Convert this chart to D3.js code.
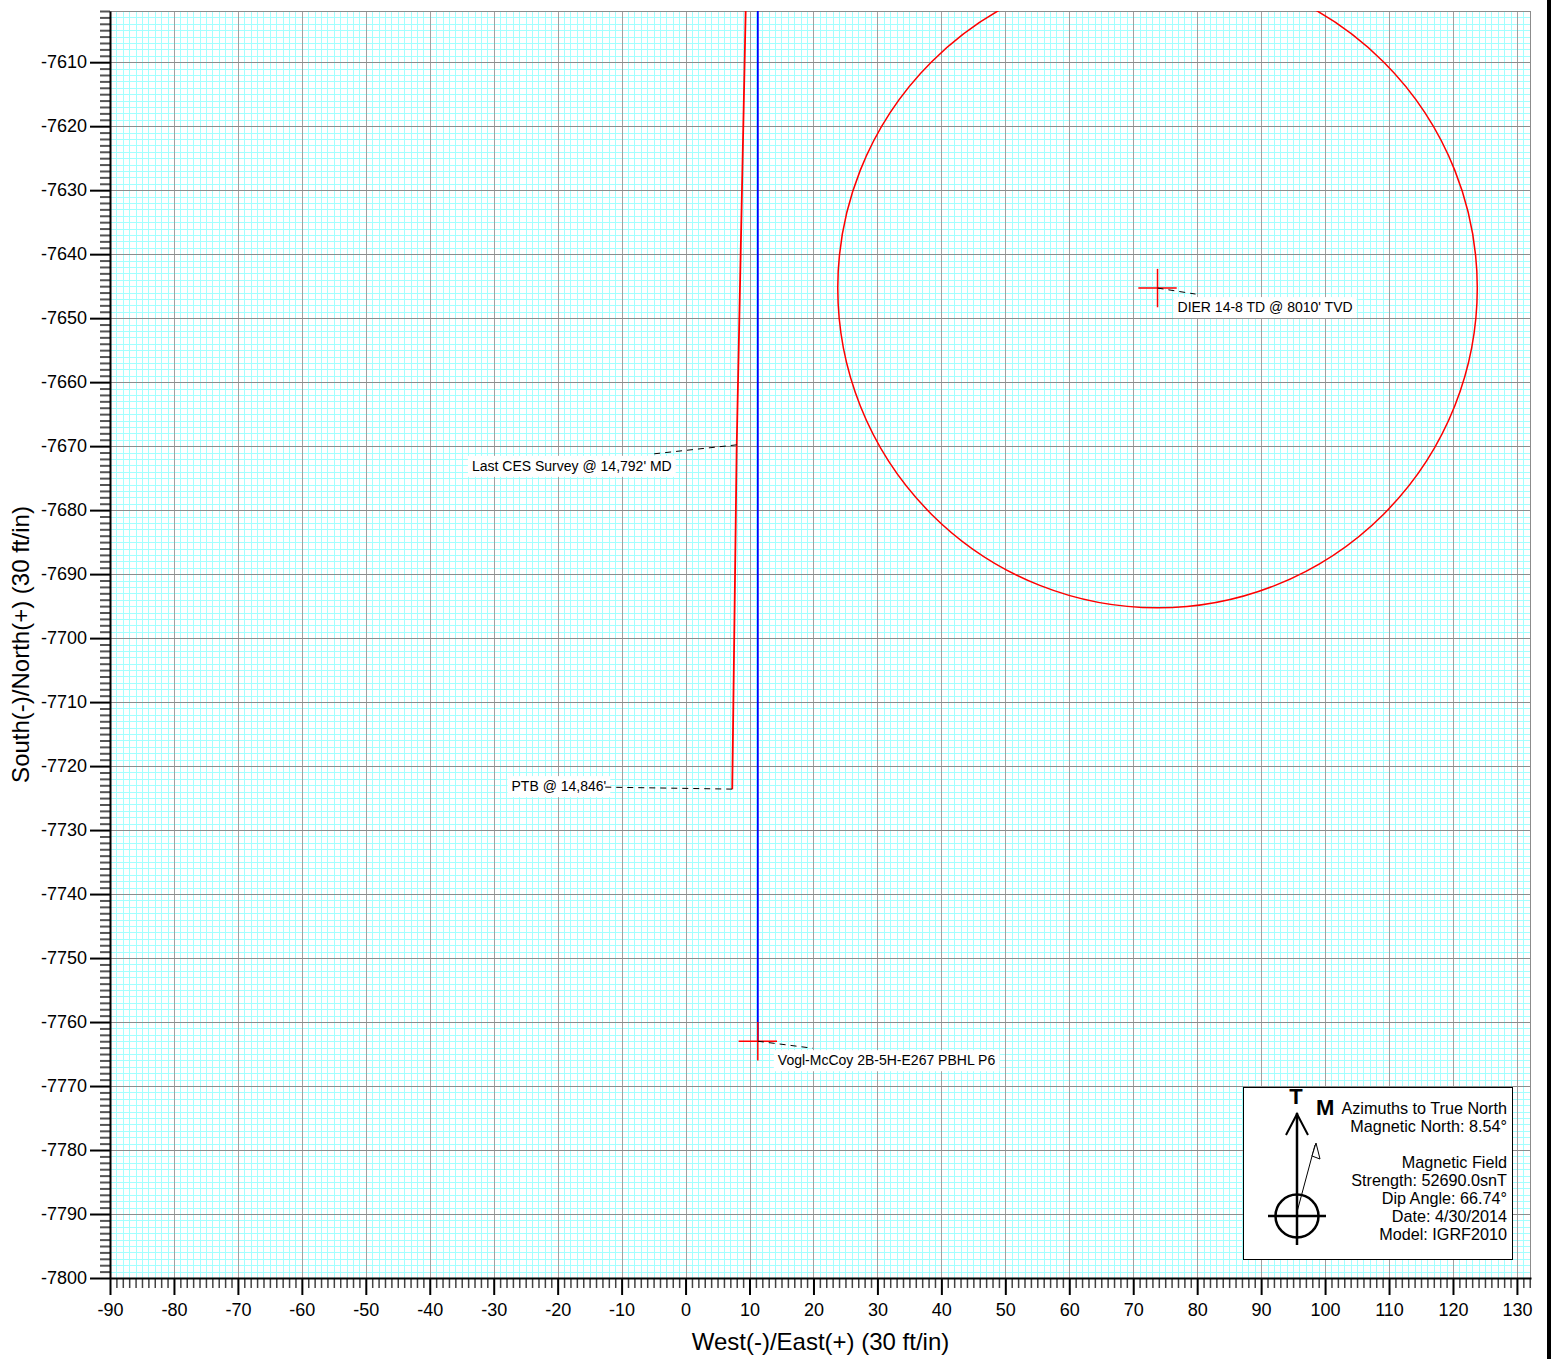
<!DOCTYPE html>
<html>
<head>
<meta charset="utf-8">
<script src="https://cdn.jsdelivr.net/npm/d3@7"></script>
<style>
  body { margin: 0; background: #fff; }
  svg { display: block; font-family: "Liberation Sans", Arial, sans-serif; }
</style>
</head>
<body>
<svg id="plan" width="1551" height="1359"></svg>
<script>
'use strict'

// view window, ft
const eastRange = [-90, 132.2]
const northRange = [-7800, -7602]
const eastTicks = d3.range(-90, 131, 10)
const northTicks = d3.range(-7800, -7609, 10)

// actual well path (red) and plan line (blue)
const wellEast = [9.4, 8.0, 7.3]
const wellNorth = [-7602, -7669.8, -7723.6]
const planEast = [11.3, 11.3]
const planNorth = [-7602, -7763]

// targets
const targetNames = ["Vogl-McCoy 2B-5H-E267 PBHL P6", "DIER 14-8 TD @ 8010' TVD"]
const targetEast = [11.3, 73.8]
const targetNorth = [-7763, -7645.3]
const hardlineRadius = [0, 50]

// survey notes
const noteNames = ["Last CES Survey @ 14,792' MD", "PTB @ 14,846'"]
const noteEast = [8.0, 7.3]
const noteNorth = [-7669.8, -7723.6]

const legendLines = ["Azimuths to True North", "Magnetic North: 8.54°", "",
  "Magnetic Field", "Strength: 52690.0snT", "Dip Angle: 66.74°",
  "Date: 4/30/2014", "Model: IGRF2010"]

const svg = d3.select('#plan')
const pLeft = 110, pRight = 1531, pTop = 11, pBottom = 1278

let x = d3.scaleLinear().domain(eastRange).range([pLeft, pRight])
let y = d3.scaleLinear().domain(northRange).range([pBottom, pTop])

// grid
const grid = svg.append('g').attr('shape-rendering', 'crispEdges')
const minorE = d3.range(-90, 133, 1)
const minorN = d3.range(-7800, -7601, 1)
grid.selectAll('.mx').data(minorE).join('line')
  .attr('x1', d => Math.round(x(d)) + 0.5).attr('x2', d => Math.round(x(d)) + 0.5)
  .attr('y1', pTop).attr('y2', pBottom)
  .style('stroke', '#a3ffff').style('stroke-width', 1)
grid.selectAll('.my').data(minorN).join('line')
  .attr('y1', d => Math.round(y(d)) + 0.5).attr('y2', d => Math.round(y(d)) + 0.5)
  .attr('x1', pLeft).attr('x2', pRight)
  .style('stroke', '#a3ffff').style('stroke-width', 1)
grid.selectAll('.gx').data(eastTicks).join('line')
  .attr('x1', d => Math.round(x(d)) + 0.5).attr('x2', d => Math.round(x(d)) + 0.5)
  .attr('y1', pTop).attr('y2', pBottom)
  .style('stroke', '#a0a0a0')
grid.selectAll('.gy').data(northTicks).join('line')
  .attr('y1', d => Math.round(y(d)) + 0.5).attr('y2', d => Math.round(y(d)) + 0.5)
  .attr('x1', pLeft).attr('x2', pRight)
  .style('stroke', '#8c8c8c')
grid.append('rect')
  .attr('x', pLeft + 0.5).attr('y', pTop + 0.5)
  .attr('width', pRight - pLeft - 1).attr('height', pBottom - pTop)
  .style('fill', 'none').style('stroke', '#8c8c8c')

// right frame bar
svg.append('rect').attr('x', 1547).attr('y', 0).attr('width', 4).attr('height', 1359).style('fill', '#000')

// axes
const plain = d => String(d)
let axisXMinor = d3.axisBottom(x).tickValues(minorE.filter(d => d % 10 !== 0)).tickSize(10).tickSizeOuter(0).tickFormat('')
let axisYMinor = d3.axisLeft(y).tickValues(minorN.filter(d => d % 10 !== 0)).tickSize(10).tickSizeOuter(0).tickFormat('')
let axisX = d3.axisBottom(x).tickValues(eastTicks).tickSize(17).tickSizeOuter(0).tickPadding(8).tickFormat(plain)
let axisY = d3.axisLeft(y).tickValues(northTicks).tickSize(20).tickSizeOuter(0).tickPadding(3).tickFormat(plain)

const gxm = svg.append('g').attr('transform', `translate(0, ${pBottom})`).call(axisXMinor)
const gym = svg.append('g').attr('transform', `translate(${pLeft}, 0)`).call(axisYMinor)
gxm.selectAll('.tick line').style('stroke', '#444').style('stroke-width', 1.5)
gym.selectAll('.tick line').style('stroke', '#555').style('stroke-width', 2)
gxm.select('.domain').remove()
gym.select('.domain').remove()

const gx = svg.append('g').attr('transform', `translate(0, ${pBottom})`).call(axisX)
const gy = svg.append('g').attr('transform', `translate(${pLeft}, 0)`).call(axisY)
for (const g of [gx, gy]) {
  g.select('.domain').style('stroke', '#000').style('stroke-width', 2)
  g.selectAll('.tick line').style('stroke', '#000').style('stroke-width', 2)
  g.selectAll('.tick text').style('font-size', '18px').style('fill', '#000')
    .style('font-family', '"Liberation Sans", Arial, sans-serif')
}

// axis titles
svg.append('text').attr('x', (pLeft + pRight) / 2).attr('y', 1350)
  .attr('text-anchor', 'middle').style('font-size', '24px')
  .text('West(-)/East(+) (30 ft/in)')
svg.append('text').attr('transform', `translate(29, ${(pTop + pBottom) / 2}) rotate(-90)`)
  .attr('text-anchor', 'middle').style('font-size', '24px')
  .text('South(-)/North(+) (30 ft/in)')

// data layer
const plot = svg.append('g')
svg.append('clipPath').attr('id', 'clip').append('rect')
  .attr('x', pLeft).attr('y', pTop).attr('width', pRight - pLeft).attr('height', pBottom - pTop)
plot.attr('clip-path', 'url(#clip)')

let line = d3.line().x(d => x(d[0])).y(d => y(d[1]))

// hardline circle
targetEast.forEach((e, i) => {
  if (hardlineRadius[i] > 0) {
    plot.append('circle')
      .attr('cx', x(e)).attr('cy', y(targetNorth[i]))
      .attr('r', x(hardlineRadius[i]) - x(0))
      .style('fill', 'none').style('stroke', '#ff0000').style('stroke-width', 1.5)
  }
})

plot.append('path').datum(planEast.map((e, i) => [e, planNorth[i]]))
  .attr('d', line).style('fill', 'none').style('stroke', '#0000ff').style('stroke-width', 1.8)
plot.append('path').datum(wellEast.map((e, i) => [e, wellNorth[i]]))
  .attr('d', line).style('fill', 'none').style('stroke', '#ff0000').style('stroke-width', 1.8)

// target crosses
const arm = 3
targetEast.forEach((e, i) => {
  const n = targetNorth[i]
  plot.append('path').datum([[e - arm, n], [e + arm, n]]).attr('d', line)
    .style('stroke', '#ff0000').style('stroke-width', 1.5)
  plot.append('path').datum([[e, n - arm], [e, n + arm]]).attr('d', line)
    .style('stroke', '#ff0000').style('stroke-width', 1.5)
})

// label with white box and dashed leader
function label(e, n, txt, lead, tpos, anchor) {
  const ax = x(e), ay = y(n)
  const g = svg.append('g')
  const box = g.append('rect').style('fill', '#fff')
  const t = g.append('text')
    .attr('x', ax + tpos[0]).attr('y', ay + tpos[1] + 5)
    .attr('text-anchor', anchor)
    .style('font-size', '14px').style('white-space', 'pre')
    .text(txt)
  const bb = t.node().getBBox()
  box.attr('x', bb.x - 4).attr('y', ay + tpos[1] - 10)
    .attr('width', bb.width + 8).attr('height', 21)
  g.append('line')
    .attr('x1', ax).attr('y1', ay).attr('x2', ax + lead[0]).attr('y2', ay + lead[1])
    .style('stroke', '#000').style('stroke-width', 1).style('stroke-dasharray', '6,5')
}

label(targetEast[0], targetNorth[0], targetNames[0], [55, 7], [20, 19], 'start')
label(targetEast[1], targetNorth[1], targetNames[1], [38, 6], [20, 19], 'start')
label(noteEast[0], noteNorth[0], noteNames[0], [-83, 9], [-65, 21], 'end')
label(noteEast[1], noteNorth[1], noteNames[1], [-128, -2], [-126, -3], 'end')

// legend / north arrow
const lg = svg.append('g').attr('transform', 'translate(1243, 1087)')
lg.append('rect').attr('x', 0.5).attr('y', 0.5).attr('width', 269).attr('height', 172)
  .style('fill', '#fff').style('stroke', '#000').style('stroke-width', 1)
lg.selectAll('.lt').data(legendLines).join('text')
  .attr('x', 264).attr('y', (d, i) => 27 + i * 18)
  .attr('text-anchor', 'end').style('font-size', '16.2px')
  .text(d => d)
lg.append('text').attr('x', 53).attr('y', 17).attr('text-anchor', 'middle')
  .style('font-size', '22px').style('font-weight', 'bold').text('T')
lg.append('text').attr('x', 73).attr('y', 28)
  .style('font-size', '22px').style('font-weight', 'bold').text('M')
lg.append('line').attr('x1', 54).attr('y1', 26).attr('x2', 54).attr('y2', 158)
  .style('stroke', '#000').style('stroke-width', 2.5)
lg.append('path').attr('d', 'M43,48 L54,27 L65,48')
  .style('fill', 'none').style('stroke', '#000').style('stroke-width', 2)
lg.append('circle').attr('cx', 54).attr('cy', 129).attr('r', 21.5)
  .style('fill', 'none').style('stroke', '#000').style('stroke-width', 2.5)
lg.append('line').attr('x1', 25).attr('y1', 129).attr('x2', 83).attr('y2', 129)
  .style('stroke', '#000').style('stroke-width', 2.5)
lg.append('line').attr('x1', 54).attr('y1', 125).attr('x2', 72).attr('y2', 58)
  .style('stroke', '#000').style('stroke-width', 1)
lg.append('path').attr('d', 'M73,56 L77,72 L69,69 Z')
  .style('fill', '#fff').style('stroke', '#000').style('stroke-width', 1)
</script>
</body>
</html>
